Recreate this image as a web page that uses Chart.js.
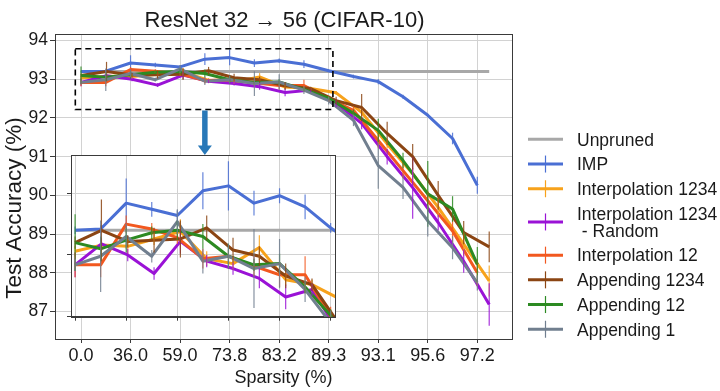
<!DOCTYPE html>
<html><head><meta charset="utf-8">
<script src="https://cdn.jsdelivr.net/npm/chart.js@4/dist/chart.umd.min.js"></script>
<style>
html,body{margin:0;padding:0;background:#fff;}
#wrap{position:relative;width:720px;height:391px;overflow:hidden;}
#main{position:absolute;left:0;top:0;}
#inset{position:absolute;left:50px;top:145px;}
</style></head><body>
<div id="wrap"><canvas id="main" width="720" height="391"></canvas><canvas id="inset" width="300" height="190"></canvas></div>
<script>
// ---------- data ----------
const X_TICK_POS = [0, 2, 4, 6, 8, 10, 12, 14, 16];
const X_TICK_LABELS = ['0.0', '36.0', '59.0', '73.8', '83.2', '89.3', '93.1', '95.6', '97.2'];
const Y_TICKS = [87, 88, 89, 90, 91, 92, 93, 94];
const INSET_X_TICKS = [0, 2, 4, 6, 8, 10];
const INSET_Y_TICKS = [92.5, 93.0, 93.5];

// pruning-step positions (IMP-like spacing) and the slightly wider spacing used by some growth runs
const STEP_X = [0, 1, 2, 3, 4, 5, 6, 7, 8, 9, 10, 11, 12, 13, 14, 15, 16];
const STEP_X_WIDE = [0, 1.03, 2.06, 3.09, 4.12, 5.15, 6.18, 7.21, 8.24, 9.27, 10.3, 11.33, 12.36, 13.39, 14.42, 15.45, 16.48];

const UNPRUNED_X = [0, 16.48];
const UNPRUNED_ACC = [93.2, 93.2];

const IMP_ACC = [93.20, 93.21, 93.42, 93.37, 93.32, 93.52, 93.56, 93.42, 93.48, 93.39, 93.22, 93.07, 92.94, 92.55, 92.07, 91.47, 90.26];
const IMP_ERR = [0.03, 0.03, 0.20, 0.06, 0.04, 0.15, 0.20, 0.10, 0.06, 0.10, 0.04, 0.05, 0.07, 0.05, 0.04, 0.15, 0.22];

const INTERP1234_ACC = [93.03, 93.08, 93.07, 93.13, 93.19, 92.97, 92.93, 93.06, 92.80, 92.76, 92.65, 92.15, 91.33, 90.56, 89.69, 88.74, 87.79];
const INTERP1234_ERR = [0.04, 0.05, 0.06, 0.05, 0.10, 0.06, 0.05, 0.10, 0.05, 0.04, 0.05, 0.10, 0.12, 0.15, 0.25, 0.30, 0.40];

const RANDOM_ACC = [92.92, 93.09, 93.00, 92.85, 93.11, 92.95, 92.89, 92.81, 92.66, 92.72, 92.38, 91.86, 91.00, 90.20, 89.30, 88.30, 87.18];
const RANDOM_ERR = [0.10, 0.05, 0.05, 0.05, 0.10, 0.05, 0.05, 0.08, 0.10, 0.05, 0.10, 0.15, 0.20, 0.80, 0.20, 0.30, 0.55];

const INTERP12_ACC = [92.92, 92.92, 93.25, 93.21, 93.14, 92.97, 92.99, 92.91, 92.84, 92.84, 92.50, 92.20, 91.42, 90.64, 89.86, 89.08, 88.00];
const INTERP12_ERR = [0.10, 0.10, 0.07, 0.05, 0.05, 0.08, 0.05, 0.08, 0.10, 0.15, 0.08, 0.10, 0.20, 0.20, 0.25, 0.30, 0.35];

const APPEND1234_ACC = [93.10, 93.20, 93.11, 93.12, 93.13, 93.22, 93.04, 92.99, 92.83, 92.76, 92.45, 92.27, 91.60, 91.00, 90.00, 89.04, 88.67];
const APPEND1234_ERR = [0.05, 0.25, 0.05, 0.10, 0.15, 0.10, 0.10, 0.08, 0.10, 0.05, 0.10, 0.35, 0.30, 0.33, 0.37, 0.30, 0.40];

const APPEND12_ACC = [93.10, 93.05, 93.12, 93.18, 93.20, 93.15, 92.99, 92.92, 92.93, 92.74, 92.51, 92.12, 91.68, 90.90, 90.04, 89.65, 88.22];
const APPEND12_ERR = [0.23, 0.10, 0.10, 0.05, 0.08, 0.10, 0.10, 0.05, 0.08, 0.05, 0.05, 0.10, 0.30, 0.20, 0.85, 0.33, 0.45];

const APPEND1_ACC = [92.92, 92.99, 93.15, 92.99, 93.27, 92.95, 92.99, 92.89, 92.93, 92.72, 92.45, 91.94, 90.77, 90.21, 89.34, 88.65, 87.74];
const APPEND1_ERR = [0.05, 0.29, 0.10, 0.05, 0.10, 0.10, 0.10, 0.32, 0.20, 0.10, 0.10, 0.15, 0.60, 0.30, 0.40, 0.30, 0.20];

// zoom window shown by the inset (data units of the main axes)
const ZOOM_X = [-0.23, 10.17];
const ZOOM_Y = [92.22, 93.79];
const ARROW_X = 5;

// ---------- styling ----------
const F = '"Liberation Sans", Arial, Helvetica, sans-serif';
Chart.defaults.font.family = F;
const COL = {
  unpruned: '#a8a8a8', imp: '#4a6fd4', i1234: '#f7a21b', rand: '#9a12d6',
  i12: '#f2581f', a1234: '#8b4513', a12: '#2c8a22', a1: '#717f8f'
};
const TEXT = '#1a1a1a', AXIS = '#3a3a3a', GRID = '#d2d2d2';

function pts(xs, ys) { return xs.map((x, i) => ({ x: x, y: ys[i] })); }

function makeDatasets() {
  const list = [
    { label: 'Unpruned', lines: ['Unpruned'], data: pts(UNPRUNED_X, UNPRUNED_ACC), borderColor: COL.unpruned, err: null },
    { label: 'IMP', lines: ['IMP'], data: pts(STEP_X, IMP_ACC), borderColor: COL.imp, err: IMP_ERR },
    { label: 'Interpolation 1234', lines: ['Interpolation 1234'], data: pts(STEP_X_WIDE, INTERP1234_ACC), borderColor: COL.i1234, err: INTERP1234_ERR },
    { label: 'Interpolation 1234 - Random', lines: ['Interpolation 1234', ' - Random'], data: pts(STEP_X_WIDE, RANDOM_ACC), borderColor: COL.rand, err: RANDOM_ERR },
    { label: 'Interpolation 12', lines: ['Interpolation 12'], data: pts(STEP_X, INTERP12_ACC), borderColor: COL.i12, err: INTERP12_ERR },
    { label: 'Appending 1234', lines: ['Appending 1234'], data: pts(STEP_X_WIDE, APPEND1234_ACC), borderColor: COL.a1234, err: APPEND1234_ERR },
    { label: 'Appending 12', lines: ['Appending 12'], data: pts(STEP_X, APPEND12_ACC), borderColor: COL.a12, err: APPEND12_ERR },
    { label: 'Appending 1', lines: ['Appending 1'], data: pts(STEP_X, APPEND1_ACC), borderColor: COL.a1, err: APPEND1_ERR }
  ];
  return list.map((d, i) => Object.assign({
    borderWidth: 3, pointRadius: 0, pointHoverRadius: 0, fill: false, tension: 0,
    order: list.length - 1 - i, borderCapStyle: 'butt', borderJoinStyle: 'round'
  }, d));
}

function drawErrorBars(chart) {
  const { ctx, chartArea: a } = chart;
  const ys = chart.scales.y;
  ctx.save();
  ctx.beginPath(); ctx.rect(a.left, a.top, a.right - a.left, a.bottom - a.top); ctx.clip();
  ctx.globalAlpha = 0.85;
  chart.data.datasets.forEach((ds, i) => {
    if (!ds.err) return;
    const meta = chart.getDatasetMeta(i);
    ctx.strokeStyle = ds.borderColor; ctx.lineWidth = 1.2;
    meta.data.forEach((pt, j) => {
      const v = ds.data[j].y, e = ds.err[j];
      ctx.beginPath();
      ctx.moveTo(pt.x, ys.getPixelForValue(v + e));
      ctx.lineTo(pt.x, ys.getPixelForValue(v - e));
      ctx.stroke();
    });
  });
  ctx.restore();
}

function drawFrame(chart) {
  const { ctx, chartArea: a } = chart;
  ctx.save();
  ctx.strokeStyle = AXIS; ctx.lineWidth = 1;
  ctx.strokeRect(Math.round(a.left) + 0.5, Math.round(a.top) + 0.5, Math.round(a.right - a.left), Math.round(a.bottom - a.top));
  ctx.restore();
}

const mainDecor = {
  id: 'mainDecor',
  afterDatasetsDraw(chart) {
    drawErrorBars(chart);
    drawFrame(chart);
    const { ctx } = chart; const xs = chart.scales.x, ys = chart.scales.y;
    // dashed zoom box
    ctx.save();
    ctx.setLineDash([6, 4]); ctx.lineWidth = 1.6; ctx.strokeStyle = '#000';
    const x0 = xs.getPixelForValue(ZOOM_X[0]), x1 = xs.getPixelForValue(ZOOM_X[1]);
    const y0 = ys.getPixelForValue(ZOOM_Y[1]), y1 = ys.getPixelForValue(ZOOM_Y[0]);
    ctx.strokeRect(x0, y0, x1 - x0, y1 - y0);
    ctx.restore();
    // arrow from box to inset
    const ax = xs.getPixelForValue(ARROW_X);
    const tip = 155;
    ctx.save();
    ctx.fillStyle = '#2878b8'; ctx.strokeStyle = '#2878b8';
    ctx.lineWidth = 5.5;
    ctx.beginPath(); ctx.moveTo(ax, y1 + 1); ctx.lineTo(ax, tip - 8); ctx.stroke();
    ctx.beginPath(); ctx.moveTo(ax - 7, tip - 9.5); ctx.lineTo(ax + 7, tip - 9.5); ctx.lineTo(ax, tip); ctx.closePath(); ctx.fill();
    ctx.restore();
  },
  afterDraw(chart) {
    const { ctx, chartArea: a } = chart;
    ctx.save();
    ctx.fillStyle = TEXT;
    // title
    ctx.font = '22px ' + F; ctx.textAlign = 'center'; ctx.textBaseline = 'alphabetic';
    ctx.fillText('ResNet 32 \u2192 56 (CIFAR-10)', (a.left + a.right) / 2 + 1, 27);
    // y axis title
    ctx.save();
    ctx.translate(15, 208); ctx.rotate(-Math.PI / 2);
    ctx.font = '22.5px ' + F; ctx.textAlign = 'center'; ctx.textBaseline = 'middle';
    ctx.fillText('Test Accuracy (%)', 0, 0);
    ctx.restore();
    // legend
    let top = 127;
    const rowH = 24.7, extraLine = 17;
    ctx.font = '17.5px ' + F; ctx.textAlign = 'left'; ctx.textBaseline = 'alphabetic';
    chart.data.datasets.forEach(ds => {
      const n = ds.lines.length;
      const h = rowH + (n - 1) * extraLine;
      const cy = top + h / 2;
      ctx.strokeStyle = ds.borderColor; ctx.lineWidth = 3;
      ctx.beginPath(); ctx.moveTo(528, cy); ctx.lineTo(563, cy); ctx.stroke();
      if (ds.err) {
        ctx.lineWidth = 1.2;
        ctx.beginPath(); ctx.moveTo(545.5, cy - 8.5); ctx.lineTo(545.5, cy + 8.5); ctx.stroke();
      }
      ctx.fillStyle = TEXT;
      const firstBase = cy - (n - 1) * extraLine / 2 + 6.3;
      ds.lines.forEach((t, k) => ctx.fillText(t, 577, firstBase + k * extraLine));
      top += h;
    });
    ctx.restore();
  }
};

new Chart(document.getElementById('main'), {
  type: 'line',
  data: { datasets: makeDatasets() },
  options: {
    responsive: false, animation: false, events: [],
    layout: { padding: { left: 0, top: 34, right: 208, bottom: 0 } },
    plugins: { legend: { display: false }, title: { display: false }, tooltip: { enabled: false } },
    scales: {
      x: {
        type: 'linear', min: -1.05, max: 17.4,
        afterBuildTicks(s) { s.ticks = X_TICK_POS.map(v => ({ value: v })); },
        afterFit(s) { s.height = 52; },
        ticks: { callback: v => X_TICK_LABELS[X_TICK_POS.indexOf(v)], font: { size: 18 }, color: TEXT, padding: 2, maxRotation: 0, autoSkip: false },
        grid: { color: GRID, tickColor: AXIS, tickLength: 4, lineWidth: 1 },
        border: { color: AXIS, width: 1 },
        title: { display: true, text: 'Sparsity (%)', font: { size: 18 }, color: TEXT, padding: { top: 0, bottom: 2 } }
      },
      y: {
        type: 'linear', min: 86.29, max: 94.17,
        afterBuildTicks(s) { s.ticks = Y_TICKS.map(v => ({ value: v })); },
        afterFit(s) { s.width = 55; },
        ticks: { callback: v => String(v), font: { size: 17.5 }, color: TEXT, padding: 2 },
        grid: { color: GRID, tickColor: AXIS, tickLength: 5, lineWidth: 1 },
        border: { color: AXIS, width: 1 }
      }
    }
  },
  plugins: [mainDecor]
});

const insetDecor = {
  id: 'insetDecor',
  beforeDraw(chart) {
    const { ctx, chartArea: a } = chart;
    ctx.save(); ctx.fillStyle = '#fff';
    ctx.fillRect(a.left, a.top, a.right - a.left, a.bottom - a.top);
    ctx.restore();
  },
  afterDatasetsDraw(chart) { drawErrorBars(chart); drawFrame(chart); }
};

new Chart(document.getElementById('inset'), {
  type: 'line',
  data: { datasets: makeDatasets() },
  options: {
    responsive: false, animation: false, events: [],
    layout: { padding: { left: 0, top: 10, right: 15, bottom: 0 } },
    plugins: { legend: { display: false }, title: { display: false }, tooltip: { enabled: false } },
    scales: {
      x: {
        type: 'linear', min: -0.16, max: 10.17,
        afterBuildTicks(s) { s.ticks = INSET_X_TICKS.map(v => ({ value: v })); },
        afterFit(s) { s.height = 18.3; },
        ticks: { display: false },
        grid: { color: GRID, tickColor: AXIS, tickLength: 4 },
        border: { color: AXIS }
      },
      y: {
        type: 'linear', min: 92.5, max: 93.81,
        afterBuildTicks(s) { s.ticks = INSET_Y_TICKS.map(v => ({ value: v })); },
        afterFit(s) { s.width = 21; },
        ticks: { display: false },
        grid: { color: GRID, tickColor: AXIS, tickLength: 4 },
        border: { color: AXIS }
      }
    }
  },
  plugins: [insetDecor]
});
</script>
</body></html>
